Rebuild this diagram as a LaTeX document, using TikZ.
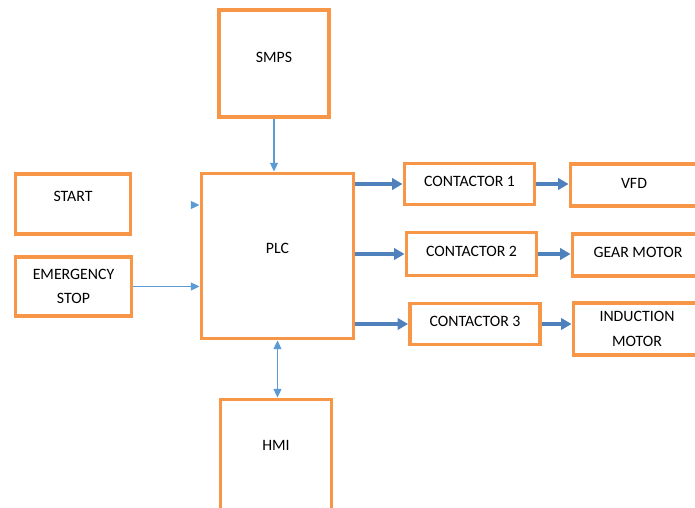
\documentclass[tikz,border=0pt]{standalone}
\usepackage{fontspec}
\setmainfont{Carlito}
\usetikzlibrary{arrows.meta}

\definecolor{boxorange}{HTML}{F79646}
\definecolor{linkblue}{HTML}{5B9BD5}
\definecolor{feedblue}{HTML}{4F81BD}

\begin{document}
\begin{tikzpicture}[
    x=0.02cm, y=-0.02cm,
    box/.style={draw=boxorange, line width=2.2pt, fill=white, inner sep=1pt,
      font=\fontsize{9}{14}\selectfont, align=center},
    link/.style={draw=linkblue, line width=0.8pt,
      -{Triangle[length=5pt, width=4.5pt]}},
    feed/.style={draw=feedblue, line width=2pt,
      -{Triangle[length=6pt, width=6.5pt]}}]

  \useasboundingbox (0,0) rectangle (695,507);

  % Draw boxes
  \node [box, minimum width=2.2cm, minimum height=2.14cm, text depth=0.26cm]
    (smps) at (274,63.5) {SMPS};
  \node [box, minimum width=2.3cm, minimum height=1.2cm, text depth=0.32cm]
    (start) at (73,204) {START};
  \node [box, minimum width=2.32cm, minimum height=1.18cm]
    (estop) at (73.5,286.5) {EMERGENCY\\STOP};
  \node [box, minimum width=3.04cm, minimum height=3.3cm, text depth=0.32cm]
    (plc) at (277.5,256) {PLC};
  \node [box, minimum width=2.22cm, minimum height=2.2cm, text depth=0.38cm]
    (hmi) at (276,454.5) {HMI};

  \node [box, minimum width=2.6cm, minimum height=0.82cm, text depth=0.12cm]
    (con1) at (469.5,184) {CONTACTOR 1};
  \node [box, minimum width=2.6cm, minimum height=0.86cm, text depth=0.12cm]
    (con2) at (471.5,254) {CONTACTOR 2};
  \node [box, minimum width=2.6cm, minimum height=0.82cm, text depth=0.12cm]
    (con3) at (475,324) {CONTACTOR 3};

  \node [box, minimum width=2.54cm, minimum height=0.84cm, text depth=0.08cm]
    (vfd) at (634,185) {VFD};
  \node [box, minimum width=2.62cm, minimum height=0.84cm, text depth=0.12cm]
    (gear) at (638,255) {GEAR MOTOR};
  \node [box, minimum width=2.54cm, minimum height=1.04cm]
    (ind) at (637,329) {INDUCTION\\MOTOR};

  % Inputs to PLC
  \draw [link] (smps.south) -- (smps.south |- plc.north);
  \draw [link] (estop.east) -- (estop.east -| plc.west);
  \coordinate (startin) at (192,205);
  \draw [link] (startin) -- (startin -| plc.west);
  \draw [link, {Triangle[length=5pt, width=4.5pt]}-{Triangle[length=5pt, width=4.5pt]}]
    (plc.south) -- (plc.south |- hmi.north);

  % PLC outputs
  \draw [feed] (plc.east |- con1.west) -- (con1.west);
  \draw [feed] (plc.east |- con2.west) -- (con2.west);
  \draw [feed] (plc.east |- con3.west) -- (con3.west);

  % Contactors to loads
  \draw [feed] (con1.east) -- (con1.east -| vfd.west);
  \draw [feed] (con2.east) -- (con2.east -| gear.west);
  \draw [feed] (con3.east) -- (con3.east -| ind.west);

\end{tikzpicture}
\end{document}
